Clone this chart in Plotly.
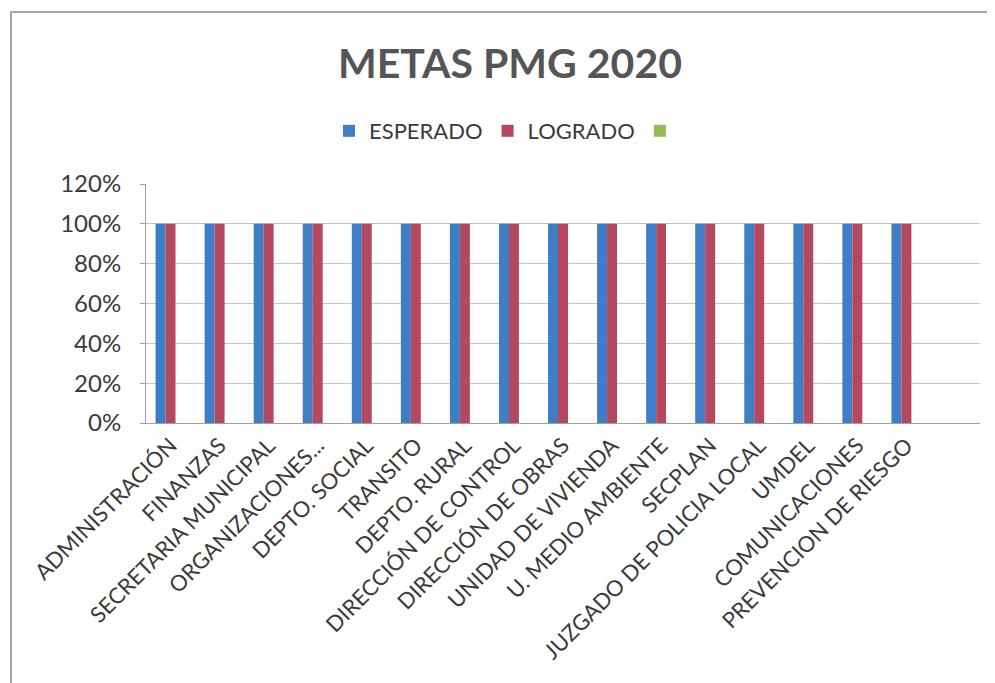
import plotly.graph_objects as go

categories = [
    "ADMINISTRACIÓN", "FINANZAS", "SECRETARIA MUNICIPAL", "ORGANIZACIONES...",
    "DEPTO. SOCIAL", "TRANSITO", "DEPTO. RURAL", "DIRECCIÓN DE CONTROL",
    "DIRECCIÓN DE OBRAS", "UNIDAD DE VIVIENDA", "U. MEDIO AMBIENTE", "SECPLAN",
    "JUZGADO DE POLICIA LOCAL", "UMDEL", "COMUNICACIONES", "PREVENCION DE RIESGO",
]
esperado = [1.0] * 16
logrado = [1.0] * 16
tercera = [None] * 16

ytick_vals = [0, 0.2, 0.4, 0.6, 0.8, 1.0, 1.2]
ytick_text = ["0%", "20%", "40%", "60%", "80%", "100%", "120%"]

FONT = "Lato"
TXT = "#3a3a3a"

fig = go.Figure()
fig.add_trace(go.Bar(x=categories, y=esperado, name="ESPERADO",
                     marker=dict(color="#3f7ec6", line=dict(width=0))))
fig.add_trace(go.Bar(x=categories, y=logrado, name="LOGRADO",
                     marker=dict(color="#b4485f", line=dict(width=0))))
fig.add_trace(go.Bar(x=categories, y=tercera, name="", showlegend=True,
                     marker=dict(color="#92bb55", line=dict(width=0))))

OFF = 8  # page offset
W, H = 995, 683
L = 146 - OFF
T = 184 - OFF
R = W - (980 - OFF)
B = H - (423 - OFF)
pw = W - L - R
ph = H - T - B


def px_x(x):
    return (x - OFF - L) / pw


def px_y(y):
    return (H - B - (y - OFF)) / ph


fig.update_layout(
    width=W, height=H,
    margin=dict(l=L, r=R, t=T, b=B, autoexpand=False),
    paper_bgcolor="white", plot_bgcolor="white",
    barmode="group", bargap=0.39, bargroupgap=0,
    font=dict(family=FONT, color=TXT),
    title=dict(text="<b>METAS PMG 2020</b>", x=(510 - OFF) / W, xanchor="center",
               y=1 - (64 - OFF) / H, yanchor="middle",
               font=dict(family=FONT, size=41, color="#555555")),
    legend=dict(orientation="h", x=px_x(507), xanchor="center",
                y=px_y(131), yanchor="middle",
                font=dict(family=FONT, size=22, color=TXT),
                itemwidth=30, traceorder="normal"),
    showlegend=True,
)
fig.update_xaxes(
    range=[-0.5, 16.5], tickangle=-45, tickfont=dict(family=FONT, size=22, color=TXT),
    showline=True, linecolor="#a0a0a0", linewidth=1, showgrid=False,
    ticks="", automargin=False,
)
fig.update_yaxes(
    range=[0, 1.2], tickvals=ytick_vals, ticktext=ytick_text,
    tickfont=dict(family=FONT, size=24, color=TXT),
    showline=True, linecolor="#a0a0a0", linewidth=1,
    ticks="outside", ticklen=5, tickcolor="#a0a0a0", ticklabelstandoff=14,
    showgrid=True, gridcolor="#c4c4c4", gridwidth=1, zeroline=False,
    automargin=False,
)
# outer chart frame
fig.add_shape(type="rect", xref="paper", yref="paper",
              x0=px_x(11), x1=px_x(1010),
              y0=px_y(700), y1=px_y(12),
              line=dict(color="#8a8a8a", width=1.5), fillcolor="rgba(0,0,0,0)",
              layer="below")

fig.write_html("out.html")
